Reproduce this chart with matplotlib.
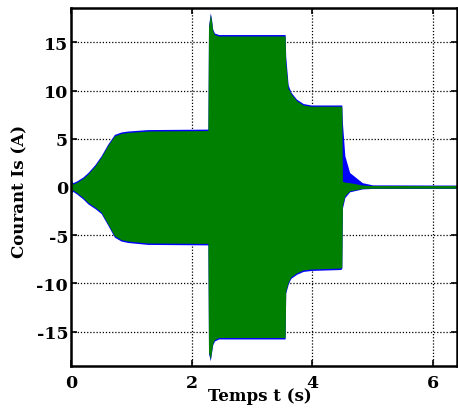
##### Packages #####
import numpy as np
import matplotlib
matplotlib.use("Agg")
import matplotlib.pyplot as plt

##### Data (envelope of the stator current) #####
# time [s]
t = [0, 0.03, 0.1, 0.2, 0.28, 0.4, 0.5, 0.61, 0.72, 0.83, 0.94, 1.27, 2.27,
     2.28, 2.31, 2.33, 2.35, 2.38, 2.45, 3.55, 3.56, 3.6, 3.63, 3.65, 3.74,
     3.85, 3.98, 4.47, 4.49, 4.50, 4.54, 4.62, 4.83, 5.0, 6.4]

# green signal, upper / lower envelope [A]
green_hi = [0.65, 0.3, 0.5, 0.9, 1.35, 2.2, 3.1, 4.3, 5.3, 5.55, 5.65, 5.8, 5.85,
            16.5, 17.9, 17.2, 16.2, 15.8, 15.65, 15.65, 12.8, 10.2, 9.9, 9.65, 8.95,
            8.5, 8.37, 8.37, 8.3, 0.6, 0.5, 0.45, 0.2, 0.15, 0.15]
green_lo = [-0.55, -0.3, -0.6, -1.1, -1.6, -2.1, -2.6, -3.8, -5.05, -5.45, -5.6, -5.8, -5.85,
            -17.1, -17.85, -17.0, -16.2, -15.8, -15.6, -15.6, -10.8, -9.9, -9.5, -9.3, -8.9,
            -8.6, -8.5, -8.4, -8.3, -1.9, -0.9, -0.4, -0.15, -0.12, -0.12]

# blue signal (mostly hidden under green, shows on edges and at 4.5 s)
blue_hi = [0.8, 0.45, 0.65, 1.05, 1.5, 2.35, 3.25, 4.45, 5.45, 5.7, 5.8, 5.95, 6.0,
           16.7, 18.05, 17.35, 16.35, 15.95, 15.8, 15.8, 13.5, 10.6, 10.1, 9.8, 9.1,
           8.65, 8.5, 8.5, 8.5, 6.7, 3.25, 1.5, 0.45, 0.22, 0.2]
blue_lo = [-0.7, -0.45, -0.75, -1.25, -1.75, -2.25, -2.75, -3.95, -5.2, -5.6, -5.75, -5.95, -6.0,
           -17.25, -18.0, -17.15, -16.35, -15.95, -15.75, -15.75, -11.0, -10.1, -9.65, -9.45, -9.05,
           -8.75, -8.65, -8.55, -8.45, -2.2, -1.1, -0.5, -0.2, -0.15, -0.15]

x_ticks = [0, 2, 4, 6]
y_ticks = [-15, -10, -5, 0, 5, 10, 15]

##### Visualization #####
plt.rcParams.update({
    'font.family': 'DejaVu Serif',
    'font.weight': 'bold',
    'font.size': 12.5,
    'axes.unicode_minus': False,
    'xtick.direction': 'in',
    'ytick.direction': 'in',
    'axes.linewidth': 1.8})

fig = plt.figure(figsize=(4.58, 4.14), dpi=100)
ax = fig.add_axes([71 / 458, 47 / 414, 386 / 458, 358 / 414])

ax.fill_between(t, blue_lo, blue_hi, color='#0000ff', linewidth=0)
ax.fill_between(t, green_lo, green_hi, color='#008000', linewidth=0)

ax.set_xlim(0, 6.4)
ax.set_ylim(-18.55, 18.55)
ax.set_xticks(x_ticks)
ax.set_yticks(y_ticks)
ax.tick_params(top=True, right=True, length=4, width=1.2)
ax.tick_params(axis='x', pad=6)
ax.tick_params(axis='y', pad=2)

ax.grid(True, color='black', linestyle=(0, (1, 1.5)), linewidth=0.9)
ax.set_axisbelow(True)

ax.set_xlabel("Temps t (s)", fontweight='bold', fontsize=12)
ax.xaxis.set_label_coords(0.49, -0.06)
ax.set_ylabel("Courant Is (A)", fontweight='bold', fontsize=12)
ax.yaxis.set_label_coords(-0.11, 0.49)

fig.savefig("out.png", dpi=100)
plt.close()
